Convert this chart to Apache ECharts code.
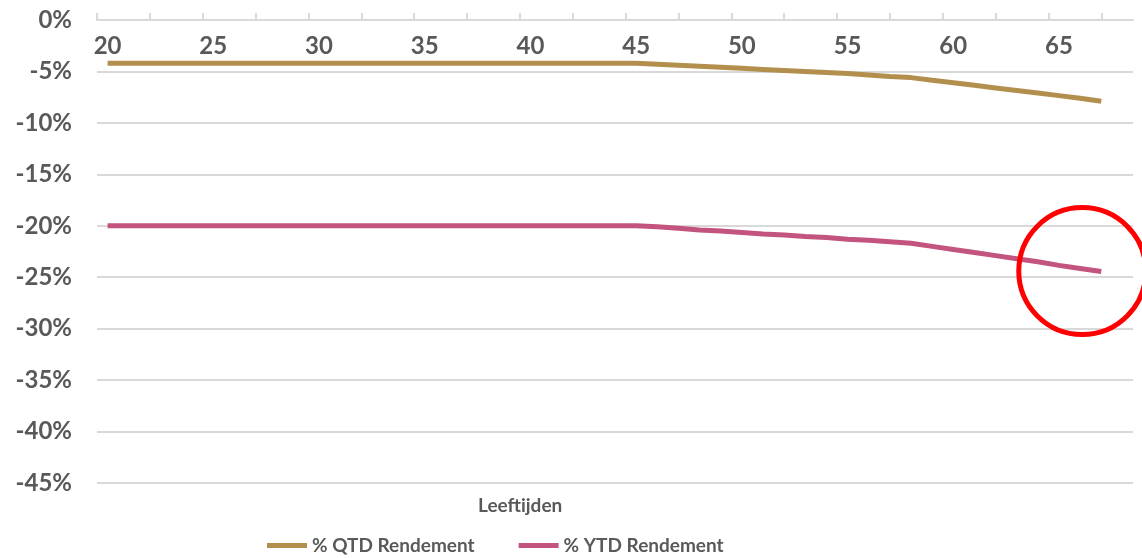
<!DOCTYPE html>
<html>
<head>
<meta charset="utf-8">
<script src="https://cdn.jsdelivr.net/npm/echarts@6/dist/echarts.min.js"></script>
<style>
  html, body { margin: 0; padding: 0; background: #fff; }
  #chart { width: 1142px; height: 558px; }
</style>
</head>
<body>
<div id="chart"></div>
<script>
// leeftijden 20 t/m 67
const ages = [20, 21, 22, 23, 24, 25, 26, 27, 28, 29, 30, 31, 32, 33, 34, 35, 36, 37, 38, 39,
    40, 41, 42, 43, 44, 45, 46, 47, 48, 49, 50, 51, 52, 53, 54, 55, 56, 57, 58, 59,
    60, 61, 62, 63, 64, 65, 66, 67];
const qtd = [-4.2, -4.2, -4.2, -4.2, -4.2, -4.2, -4.2, -4.2, -4.2, -4.2, -4.2, -4.2, -4.2, -4.2, -4.2, -4.2, -4.2, -4.2, -4.2, -4.2,
    -4.2, -4.2, -4.2, -4.2, -4.2, -4.2, -4.3, -4.4, -4.5, -4.6, -4.7, -4.8, -4.9, -5.0, -5.1, -5.2, -5.35, -5.5, -5.6, -5.85,
    -6.1, -6.35, -6.6, -6.85, -7.1, -7.35, -7.6, -7.9];
const ytd = [-20.0, -20.0, -20.0, -20.0, -20.0, -20.0, -20.0, -20.0, -20.0, -20.0, -20.0, -20.0, -20.0, -20.0, -20.0, -20.0, -20.0, -20.0, -20.0, -20.0,
    -20.0, -20.0, -20.0, -20.0, -20.0, -20.0, -20.1, -20.25, -20.4, -20.5, -20.65, -20.8, -20.9, -21.05, -21.15, -21.3, -21.4, -21.55, -21.7, -22.0,
    -22.3, -22.6, -22.9, -23.2, -23.5, -23.85, -24.15, -24.45];
const ageLabels = [20, 25, 30, 35, 40, 45, 50, 55, 60, 65];
const ageTicks = [19.5, 22, 24.5, 27, 29.5, 32, 34.5, 37, 39.5, 42, 44.5, 47, 49.5, 52, 54.5, 57, 59.5, 62, 64.5, 67];
const circleAt = [66.1, -24.4];

const txt = '#595959';
const font = 'Lato';

const chart = echarts.init(document.getElementById('chart'));
chart.setOption({
    animation: false,
    backgroundColor: '#fff',
    title: {
        text: 'Leeftijden',
        left: 478,
        top: 496,
        padding: 0,
        textStyle: { color: txt, fontFamily: font, fontWeight: 'bold', fontSize: 19 }
    },
    legend: {
        left: 267,
        top: 536,
        padding: 0,
        itemWidth: 40,
        itemHeight: 5,
        itemGap: 44,
        icon: 'rect',
        textStyle: { color: txt, fontFamily: font, fontWeight: 'bold', fontSize: 19 },
        data: ['% QTD Rendement', '% YTD Rendement']
    },
    grid: { left: 97, right: 9, top: 20, bottom: 75, outerBoundsMode: 'none' },
    xAxis: {
        type: 'value',
        position: 'top',
        min: 19.5,
        max: 68.5,
        axisLine: { show: true, onZero: false, lineStyle: { color: '#d9d9d9', width: 2 } },
        axisTick: { show: true, length: 7, customValues: ageTicks, lineStyle: { color: '#d9d9d9', width: 2 } },
        axisLabel: {
            inside: true, margin: 14, customValues: ageLabels,
            color: txt, fontFamily: font, fontWeight: 'bold', fontSize: 24
        },
        splitLine: { show: false }
    },
    yAxis: {
        type: 'value',
        min: -45,
        max: 0,
        interval: 5,
        axisLine: { show: false },
        axisTick: { show: false },
        axisLabel: {
            margin: 25, formatter: '{value}%',
            color: txt, fontFamily: font, fontWeight: 'bold', fontSize: 24
        },
        splitLine: { lineStyle: { color: '#d9d9d9', width: 2 } }
    },
    series: [
        {
            name: '% QTD Rendement',
            type: 'line',
            symbol: 'none',
            color: '#B38F4D',
            lineStyle: { width: 5 },
            data: ages.map((a, i) => [a, qtd[i]])
        },
        {
            name: '% YTD Rendement',
            type: 'line',
            symbol: 'none',
            color: '#C2547F',
            lineStyle: { width: 5 },
            data: ages.map((a, i) => [a, ytd[i]]),
            markPoint: {
                silent: true,
                symbol: 'circle',
                symbolSize: 127,
                label: { show: false },
                itemStyle: { color: 'rgba(0,0,0,0)', borderColor: '#FF0000', borderWidth: 5 },
                data: [{ coord: circleAt }]
            }
        }
    ]
});
</script>
</body>
</html>
